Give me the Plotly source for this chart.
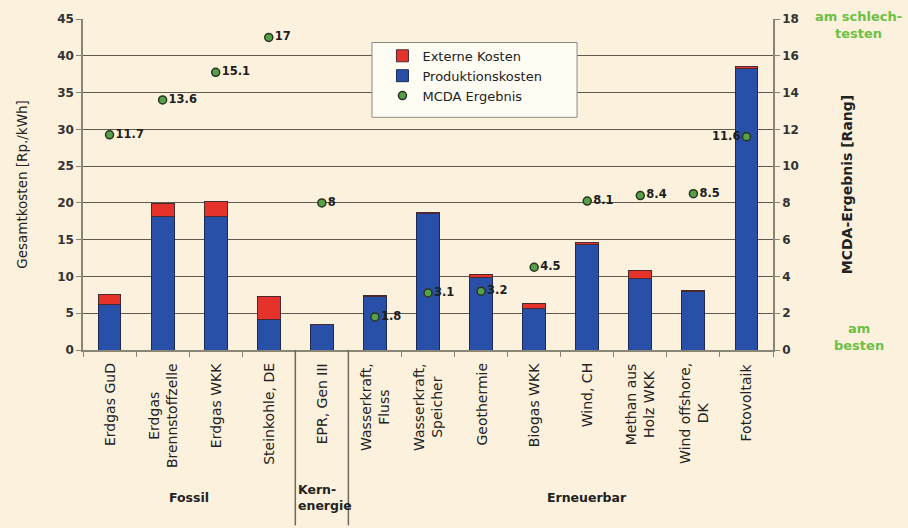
import plotly.graph_objects as go

# Technologies (x categories) and their groups
categories = [
    "Erdgas GuD", "Erdgas<br>Brennstoffzelle", "Erdgas WKK", "Steinkohle, DE",
    "EPR, Gen III",
    "Wasserkraft,<br>Fluss", "Wasserkraft,<br>Speicher", "Geothermie", "Biogas WKK",
    "Wind, CH", "Methan aus<br>Holz WKK", "Wind offshore,<br>DK", "Fotovoltaik",
]
# Production and external costs [Rp./kWh]
produktionskosten = [6.2, 18.1, 18.1, 4.1, 3.4, 7.3, 18.5, 9.9, 5.7, 14.4, 9.7, 8.0, 38.3]
externe_kosten = [1.4, 1.8, 2.1, 3.2, 0.1, 0.05, 0.2, 0.4, 0.6, 0.2, 1.05, 0.15, 0.3]
# MCDA ranking result
mcda = [11.7, 13.6, 15.1, 17, 8, 1.8, 3.1, 3.2, 4.5, 8.1, 8.4, 8.5, 11.6]
mcda_text_pos = ["middle right"] * 12 + ["middle left"]

# Group labels: (label, x position, anchor)
groups = [("Fossil", 1.5, "center"), ("Kern-<br>energie", 3.5, "left"), ("Erneuerbar", 9.0, "center")]
group_boundaries = [3.5, 4.5]

BG = "#FCF1DC"
FONT = "DejaVu Sans"
BLUE = "#2850A8"
RED = "#E5322A"
GREEN_TXT = "#6DBF45"

fig = go.Figure()
# Legend order: Externe Kosten, Produktionskosten, MCDA Ergebnis
fig.add_trace(go.Bar(
    x=categories, y=produktionskosten, name="Produktionskosten",
    marker=dict(color=BLUE, line=dict(color="#1D2A55", width=1)),
    legendrank=2,
))
fig.add_trace(go.Bar(
    x=categories, y=externe_kosten, name="Externe Kosten",
    marker=dict(color=RED, line=dict(color="#4A2A30", width=1)),
    legendrank=1,
))
fig.add_trace(go.Scatter(
    x=categories, y=mcda, yaxis="y2", name="MCDA Ergebnis",
    mode="markers+text",
    text=[f"{v:g}" for v in mcda], textposition=mcda_text_pos,
    textfont=dict(family=FONT, size=11.5, color="#1E1E1E", weight="bold"),
    marker=dict(size=8, color="#55A04A", line=dict(color="#2A3520", width=1.5)),
    legendrank=3,
))

annotations = []
# Rotated category labels under the x axis
for c in categories:
    annotations.append(dict(
        x=c, xref="x", y=0, yref="paper", yshift=-11,
        text=c, textangle=-90, xanchor="center", yanchor="top", align="center",
        showarrow=False, font=dict(family=FONT, size=14, color="#222222"),
    ))
for label, gx, anchor in groups:
    annotations.append(dict(
        x=gx, xref="x", y=-0.445, yref="paper", text=label,
        xanchor=anchor, yanchor="middle", align="left", showarrow=False,
        xshift=1 if anchor == "left" else 0,
        font=dict(family=FONT, size=12.5, color="#222222", weight="bold"),
    ))
# Ranking direction hints next to the right axis
annotations.append(dict(
    x=1.124, xref="paper", y=1.0, yref="paper", text="am schlech-<br>testen",
    xanchor="center", yanchor="middle", yshift=-6, showarrow=False, align="center",
    font=dict(family=FONT, size=13, color=GREEN_TXT, weight="bold"),
))
annotations.append(dict(
    x=1.124, xref="paper", y=0.0, yref="paper", text="am<br>besten",
    xanchor="center", yanchor="middle", yshift=13, showarrow=False, align="center",
    font=dict(family=FONT, size=13, color=GREEN_TXT, weight="bold"),
))

shapes = []
for b in group_boundaries:
    shapes.append(dict(
        type="line", x0=b, x1=b, xref="x", y0=0, y1=-0.53, yref="paper",
        line=dict(color="#6E6A5C", width=1.5),
    ))
# Legend frame
shapes.append(dict(
    type="rect", xref="paper", yref="paper",
    x0=0.4188, x1=0.716, y0=0.703, y1=0.929,
    fillcolor="#FFFCF4", line=dict(color="#8A8A84", width=1), layer="above",
))

fig.update_layout(
    width=908, height=528,
    margin=dict(l=83, r=135, t=13, b=178),
    paper_bgcolor=BG, plot_bgcolor=BG,
    barmode="stack", bargap=0.57,
    font=dict(family=FONT, color="#222222"),
    showlegend=True,
    legend=dict(
        x=0.434, xanchor="left", y=0.934, yanchor="top",
        traceorder="normal",
        bgcolor="rgba(0,0,0,0)", borderwidth=0,
        font=dict(family=FONT, size=13, color="#222222"),
        tracegroupgap=0,
    ),
    xaxis=dict(
        type="category", range=[-0.5, 12.5], showticklabels=False,
        ticks="outside", tickson="boundaries", ticklen=5, tickcolor="#8A8676",
        showline=True, linecolor="#8A8676", linewidth=1.5, showgrid=False,
    ),
    yaxis=dict(
        range=[0, 45], dtick=5, showgrid=True, gridcolor="#5E5A50", gridwidth=1,
        showline=True, linecolor="#8A8676", linewidth=1.5,
        ticks="outside", ticklen=5, tickcolor="#8A8676",
        tickfont=dict(family=FONT, size=12, color="#333333", weight="bold"),
        title=dict(text="Gesamtkosten [Rp./kWh]", standoff=26,
                   font=dict(family=FONT, size=13.5, color="#222222")),
        zeroline=False,
    ),
    yaxis2=dict(
        range=[0, 18], dtick=2, overlaying="y", side="right", showgrid=False,
        showline=True, linecolor="#8A8676", linewidth=1.5,
        ticks="outside", ticklen=5, tickcolor="#8A8676",
        tickfont=dict(family=FONT, size=12, color="#333333", weight="bold"),
        title=dict(text="MCDA-Ergebnis [Rang]", standoff=44,
                   font=dict(family=FONT, size=14, color="#222222", weight="bold")),
        zeroline=False,
    ),
    annotations=annotations, shapes=shapes,
)

fig.write_html("out.html")
